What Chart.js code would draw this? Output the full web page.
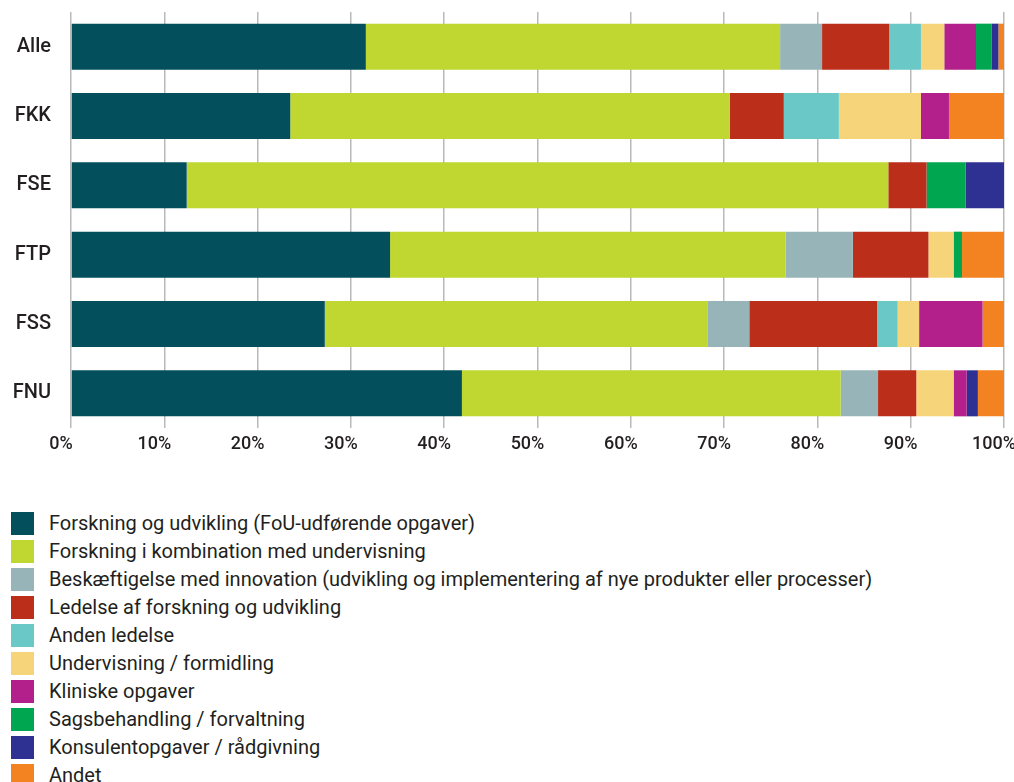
<!DOCTYPE html>
<html><head><meta charset="utf-8">
<script src="https://cdn.jsdelivr.net/npm/chart.js@4"></script>
<style>
html,body{margin:0;padding:0;background:#fff;overflow:hidden;}
#wrap{position:absolute;left:0;top:0;width:1014px;height:458px;}
#legend{position:absolute;left:11px;top:509px;font-family:Roboto,"Noto Sans",sans-serif;font-size:20px;color:#231f20;}
.row{height:28px;display:flex;align-items:center;position:relative;}
.box{width:23px;height:23px;margin-right:15px;flex:none;}
</style></head>
<body>
<div id="wrap"><canvas id="c"></canvas></div>
<div id="legend"></div>
<script>
const categories = ["Alle","FKK","FSE","FTP","FSS","FNU"];
const seriesNames = [
 "Forskning og udvikling (FoU-udførende opgaver)",
 "Forskning i kombination med undervisning",
 "Beskæftigelse med innovation (udvikling og implementering af nye produkter eller processer)",
 "Ledelse af forskning og udvikling",
 "Anden ledelse",
 "Undervisning / formidling",
 "Kliniske opgaver",
 "Sagsbehandling / forvaltning",
 "Konsulentopgaver / rådgivning",
 "Andet"
];
const forskningUdvikling   = [31.6, 23.5, 12.4, 34.2, 27.2, 41.9];
const forskningUndervisning= [44.4, 47.1, 75.2, 42.4, 41.0, 40.6];
const innovation           = [4.5, 0, 0, 7.2, 4.5, 4.0];
const ledelseFoU           = [7.2, 5.8, 4.1, 8.1, 13.7, 4.1];
const andenLedelse         = [3.4, 5.9, 0, 0, 2.2, 0];
const undervisning         = [2.5, 8.8, 0, 2.7, 2.3, 4.0];
const kliniske             = [3.4, 3.0, 0, 0, 6.8, 1.4];
const sagsbehandling       = [1.7, 0, 4.2, 0.9, 0, 0];
const konsulent            = [0.7, 0, 4.1, 0, 0, 1.2];
const andet                = [0.6, 5.9, 0, 4.5, 2.3, 2.8];
const xTicks = ["0%","10%","20%","30%","40%","50%","60%","70%","80%","90%","100%"];

const seriesData = [forskningUdvikling, forskningUndervisning, innovation, ledelseFoU, andenLedelse, undervisning, kliniske, sagsbehandling, konsulent, andet];
const colors = ["#03505c","#bfd730","#97b5b8","#bb2e1a","#6ac8c6","#f6d47a","#b31f8b","#00a650","#2e3192","#f38321"];

const datasets = seriesData.map((d,i)=>({
  label: seriesNames[i], data: d, backgroundColor: colors[i],
  borderWidth: 0, categoryPercentage: 1.0, barPercentage: 0.664
}));

const chart = new Chart(document.getElementById('c'), {
  type: 'bar',
  data: { labels: categories, datasets },
  options: {
    indexAxis: 'y', responsive: true, maintainAspectRatio: false, animation: false,
    layout: { padding: { top: 12, right: 10, left: 0, bottom: 0 } },
    plugins: { legend: { display: false }, tooltip: { enabled: false } },
    scales: {
      x: {
        stacked: true, min: 0, max: 100,
        grid: { color: '#b9b9b9', lineWidth: 1.5, drawTicks: false },
        border: { display: false },
        ticks: { stepSize: 10, padding: 6, labelOffset: -10, color: '#231f20', maxRotation: 0, autoSkip: false,
          font: { family: 'Roboto', size: 18, weight: '500' },
          callback: (v, i) => xTicks[i] },
        afterFit: s => { s.height = 30; s.paddingLeft = 0; s.paddingRight = 0; }
      },
      y: {
        stacked: true,
        grid: { display: false, drawTicks: false }, border: { display: false },
        ticks: { padding: 20, color: '#231f20', font: { family: 'Roboto', size: 20, weight: '500' } },
        afterFit: s => { s.width = 71; s.paddingTop = 0; s.paddingBottom = 0; }
      }
    }
  }
});

const leg = document.getElementById('legend');
chart.data.datasets.forEach(ds => {
  const r = document.createElement('div'); r.className = 'row';
  const b = document.createElement('div'); b.className = 'box'; b.style.background = ds.backgroundColor;
  const t = document.createElement('span'); t.textContent = ds.label;
  r.appendChild(b); r.appendChild(t); leg.appendChild(r);
});
</script>
</body></html>
